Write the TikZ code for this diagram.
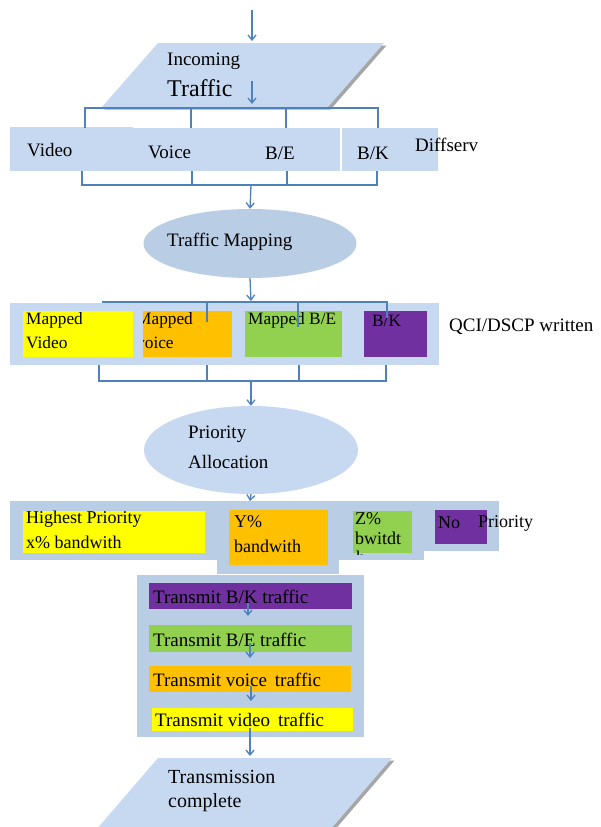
\documentclass[tikz,border=0pt]{standalone}
\usepackage{fontspec}
\setmainfont{Liberation Serif}
\usetikzlibrary{shapes.geometric,arrows.meta}
\definecolor{lb}{HTML}{C6D9F1}
\definecolor{bandc}{HTML}{B9CDE5}
\definecolor{ln}{HTML}{4F81BD}
\definecolor{yel}{HTML}{FFFF00}
\definecolor{org}{HTML}{FFC000}
\definecolor{grn}{HTML}{92D050}
\definecolor{pur}{HTML}{7030A0}
\definecolor{shad}{HTML}{A6A6A6}
\begin{document}
\begin{tikzpicture}[x=1pt,y=-1pt,
  conn/.style={draw=ln, line width=1.3pt},
  arr/.style={conn, -{Straight Barb[length=5pt,width=8pt]}},
  box/.style={inner sep=0pt, outer sep=0pt, draw=none},
  txt/.style={inner sep=0pt, anchor=west, font=\fontsize{19}{21}\selectfont},
  txtb/.style={inner sep=0pt, anchor=west, font=\fontsize{17.3}{19}\selectfont},
  txtc/.style={inner sep=0pt, anchor=west, font=\fontsize{18}{20}\selectfont}]
\useasboundingbox (0,0) rectangle (600,827);
\clip (0,0) rectangle (600,827);
\fill[white] (0,0) rectangle (600,827);

% ---------- Incoming traffic ----------
\coordinate (start) at (252,10);
\fill[shad] (160.5,45.5) -- (386.5,45.5) -- (330.5,109.5) -- (104.5,109.5) -- cycle;
\fill[lb] (158,43) -- (384,43) -- (328,107) -- (102,107) -- cycle;
\node[box] (incoming) at (243,75) {};
\coordinate (inTop) at (252,41);
\node[txt] (inc1) at (167,61) {Incoming};
\node[txt, font=\fontsize{24}{26}\selectfont] (inc2) at (167,88) {Traffic};
\coordinate (inA) at (252,81);
\coordinate (inB) at (252,104);
\draw[arr] (start) -- (inTop);
\draw[arr] (inA) -- (inB);

% ---------- Row 1: Diffserv classes ----------
\node[box, fill=lb, minimum width=330pt, minimum height=43pt] (band1) at (175,149.5) {};
\node[box, fill=lb, minimum width=123pt, minimum height=2pt] (band1top) at (71.5,127.5) {};
\node[box, fill=lb, minimum width=96pt, minimum height=43pt] (band1b) at (390,149.5) {};
\node[txt] (video) at (27,150) {Video};
\node[txt] (voice) at (148,152) {Voice};
\node[txt] (be) at (265,153) {B/E};
\node[txt] (bk) at (357,153) {B/K};
\node[txt] (diff) at (415,145) {Diffserv};

\coordinate (t1) at (85,108);  \coordinate (t1b) at (85,128);
\coordinate (t2) at (191,108); \coordinate (t2b) at (191,128);
\coordinate (t3) at (286,108); \coordinate (t3b) at (286,128);
\coordinate (t4) at (378,108); \coordinate (t4b) at (378,128);
\draw[conn] (t1b) -- (t1) -- (t4) -- (t4b);
\draw[conn] (t2) -- (t2b);
\draw[conn] (t3) -- (t3b);

\coordinate (b1) at (82,171);  \coordinate (b1b) at (82,185);
\coordinate (b2) at (192,171); \coordinate (b2b) at (192,185);
\coordinate (b3) at (287,171); \coordinate (b3b) at (287,185);
\coordinate (b4) at (377,171); \coordinate (b4b) at (377,185);
\draw[conn] (b1) -- (b1b) -- (b4b) -- (b4);
\draw[conn] (b2) -- (b2b);
\draw[conn] (b3) -- (b3b);
\coordinate (m1) at (251,185);

% ---------- Traffic Mapping ----------
\node[ellipse, fill=bandc, inner sep=0pt, minimum width=213pt, minimum height=69pt] (map) at (250,243.5) {};
\node[txt] (mapt) at (167,242) {Traffic Mapping};
\draw[arr] (m1) -- (map.north);

% ---------- Row 2: mapped classes ----------
\node[box, fill=lb, minimum width=429pt, minimum height=62pt] (band2) at (224.5,334) {};
\coordinate (m2) at (251,301);
\draw[arr] (map.south) -- (m2);
\node[box, fill=yel, minimum width=110pt, minimum height=46pt] (mv) at (78,334) {};
\node[box, fill=org, minimum width=89pt, minimum height=46pt] (mvo) at (187.5,334) {};
\node[box, fill=grn, minimum width=97pt, minimum height=46pt] (mbe) at (293.5,334) {};
\node[box, fill=pur, minimum width=63pt, minimum height=46pt] (mbk) at (395.5,334) {};
\node[txtb] (mv1) at (26,320) {Mapped};
\node[txtb] (mv2) at (26,343) {Video};
\begin{scope}
\clip (143,311) rectangle (232,357);
\node[txtb] (mvo1) at (136,320) {Mapped};
\node[txtb] (mvo2) at (136,343) {voice};
\end{scope}
\node[txtb] (mbe1) at (248,320) {Mapped B/E};
\node[txtb] (mbk1) at (372,321) {B/K};
\node[txt] (qci) at (449,327) {QCI/DSCP written};

\coordinate (u0) at (102,302);
\coordinate (u2) at (207,302); \coordinate (u2b) at (207,322);
\coordinate (u3) at (298,302); \coordinate (u3b) at (298,327);
\coordinate (u4) at (387,302); \coordinate (u4b) at (387,318);
\draw[conn] (u0) -- (u4) -- (u4b);
\draw[conn] (u2) -- (u2b);
\draw[conn] (u3) -- (u3b);

\coordinate (v1) at (99,365);  \coordinate (v1b) at (99,381);
\coordinate (v2) at (207,365); \coordinate (v2b) at (207,381);
\coordinate (v3) at (299,365); \coordinate (v3b) at (299,381);
\coordinate (v4) at (386,365); \coordinate (v4b) at (386,381);
\draw[conn] (v1) -- (v1b) -- (v4b) -- (v4);
\draw[conn] (v2) -- (v2b);
\draw[conn] (v3) -- (v3b);
\coordinate (m3) at (251,381);

% ---------- Priority Allocation ----------
\node[ellipse, fill=lb, inner sep=0pt, minimum width=214pt, minimum height=88pt] (prio) at (251,450) {};
\node[txt] (pr1) at (188,434) {Priority};
\node[txt] (pr2) at (188,462) {Allocation};
\draw[arr] (m3) -- (prio.north);

% ---------- Row 3: bandwidth shares ----------
\node[box, fill=bandc, minimum width=414pt, minimum height=59pt] (band3) at (217,530.5) {};
\node[box, fill=bandc, minimum width=76pt, minimum height=50pt] (band3r) at (461,526) {};
\node[box, fill=bandc, minimum width=122pt, minimum height=20pt] (band3h) at (278,564) {};
\coordinate (m4) at (250,501);
\draw[arr] (prio.south) -- (m4);
\node[box, fill=yel, minimum width=182pt, minimum height=42pt] (hp) at (114,531.5) {};
\node[box, fill=org, minimum width=99pt, minimum height=55pt] (yp) at (278.5,537.5) {};
\node[box, fill=grn, minimum width=59pt, minimum height=42pt] (zp) at (382.5,531.5) {};
\node[box, fill=pur, minimum width=52pt, minimum height=34pt] (np) at (461,527) {};
\node[txtc] (hp1) at (26,519) {Highest Priority};
\node[txtc] (hp2) at (26,542) {x\% bandwith};
\node[txtc] (yp1) at (234,522) {Y\%};
\node[txtc] (yp2) at (234,546) {bandwith};
\node[txtc] (zp1) at (355,519) {Z\%};
\node[txtc] (zp2) at (355,538) {bwitdt};
\begin{scope}
\clip (350,549) rectangle (420,554);
\node[txtc] (zp3) at (356,557) {h};
\end{scope}
\node[txtc] (np1) at (438,523) {No};
\node[txtc] (np2) at (478,523) {Priority};

% ---------- Transmission order ----------
\node[box, fill=bandc, minimum width=227pt, minimum height=162pt] (band4) at (250.5,656) {};
\node[box, fill=pur, minimum width=203pt, minimum height=26pt] (tbk) at (250.5,596) {};
\node[box, fill=grn, minimum width=203pt, minimum height=27pt] (tbe) at (250.5,638.5) {};
\node[box, fill=org, minimum width=202pt, minimum height=26pt] (tvo) at (250,679) {};
\node[box, fill=yel, minimum width=201pt, minimum height=23pt] (tvi) at (252.5,719.5) {};
\node[txt] (tbk1) at (153,597) {Transmit B/K traffic};
\node[txt] (tbe1) at (153,640) {Transmit B/E traffic};
\node[txt] (tvo1) at (153,680) {Transmit voice\, traffic};
\node[txt] (tvi1) at (155,720) {Transmit video\, traffic};
\coordinate (a1) at (248,603); \coordinate (a1b) at (248,616);
\coordinate (a2) at (250,643); \coordinate (a2b) at (250,658);
\coordinate (a3) at (251,686); \coordinate (a3b) at (251,701);
\coordinate (a4) at (250,728);
\draw[arr] (a1) -- (a1b);
\draw[arr] (a2) -- (a2b);
\draw[arr] (a3) -- (a3b);

% ---------- Transmission complete ----------
\fill[shad] (160.5,760.5) -- (394.5,760.5) -- (332.5,832.5) -- (98.5,832.5) -- cycle;
\fill[lb] (158,758) -- (392,758) -- (330,830) -- (96,830) -- cycle;
\node[box] (done) at (244,794) {};
\coordinate (doneTop) at (250,756);
\node[txt, font=\fontsize{20}{22}\selectfont] (dn1) at (168,777) {Transmission};
\node[txt, font=\fontsize{20}{22}\selectfont] (dn2) at (168,803) {complete};
\draw[arr] (a4) -- (doneTop);
\end{tikzpicture}
\end{document}
